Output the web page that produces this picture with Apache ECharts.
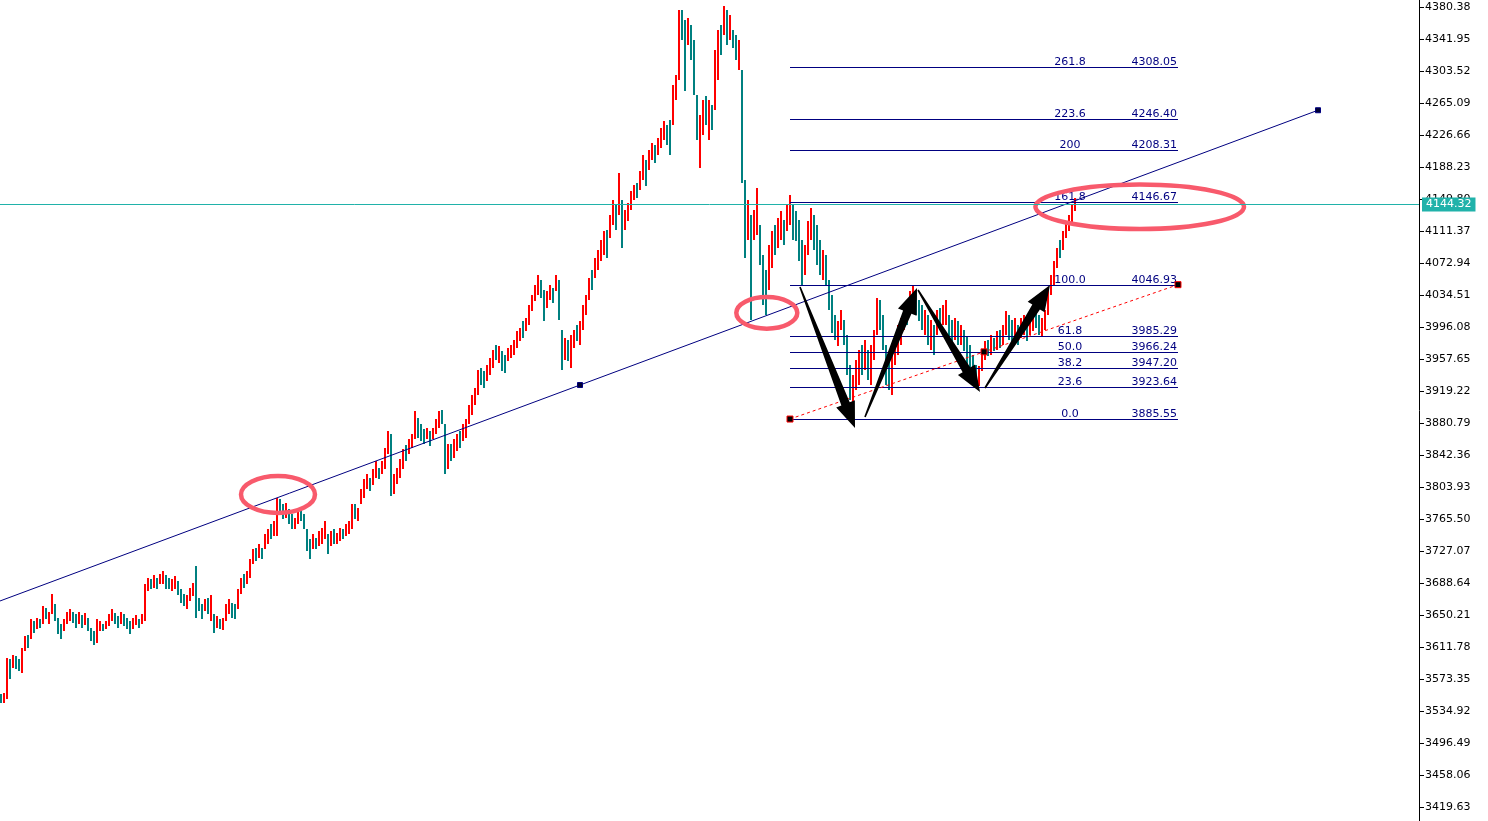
<!DOCTYPE html>
<html>
<head>
<meta charset="utf-8">
<title>Gold H1</title>
<script src="https://cdn.jsdelivr.net/npm/echarts@6/dist/echarts.min.js"></script>
<style>
html, body { margin: 0; padding: 0; background: #ffffff; }
#chart { width: 1488px; height: 821px; }
</style>
</head>
<body>
<div id="chart"></div>
<script>
// one entry per bar, left to right
const highs = [
  3555,3557,3599,3597,3602,3601,3597,3611,3625,3626,
  3645,3643,3647,3645,3661,3659,3654,3675,3663,3647,
  3639,3645,3654,3657,3654,3651,3654,3650,3653,3647,
  3635,3631,3645,3643,3640,3643,3651,3657,3653,3649,
  3654,3651,3647,3643,3647,3650,3646,3651,3687,3695,
  3693,3698,3695,3700,3703,3698,3695,3693,3697,3691,
  3681,3675,3674,3683,3689,3709,3671,3663,3669,3671,
  3674,3651,3649,3645,3647,3663,3669,3665,3663,3681,
  3695,3699,3703,3717,3729,3731,3735,3731,3747,3753,
  3759,3763,3791,3789,3783,3785,3777,3771,3767,3775,
  3777,3771,3753,3741,3747,3743,3751,3755,3763,3747,
  3751,3753,3749,3755,3753,3759,3763,3783,3783,3779,
  3801,3813,3819,3815,3825,3835,3827,3835,3851,3871,
  3867,3819,3827,3837,3849,3854,3861,3867,3895,3887,
  3879,3873,3875,3871,3875,3885,3895,3897,3879,3855,
  3855,3861,3867,3871,3879,3885,3903,3915,3923,3945,
  3947,3943,3950,3959,3969,3975,3973,3967,3963,3971,
  3975,3981,3991,3995,4003,4007,4023,4035,4047,4059,
  4053,4041,4039,4047,4043,4059,4053,3993,3983,3981,
  3987,3993,3999,4003,4023,4035,4055,4065,4079,4089,
  4101,4111,4113,4131,4149,4143,4181,4149,4137,4145,
  4159,4167,4169,4183,4203,4197,4209,4217,4215,4223,
  4235,4243,4239,4245,4287,4299,4377,4377,4365,4367,
  4359,4341,4275,4251,4269,4273,4269,4263,4329,4353,
  4359,4381,4377,4371,4353,4347,4341,4305,4173,4149,
  4131,4137,4163,4119,4083,4065,4095,4111,4119,4127,
  4135,4125,4143,4155,4143,4135,4125,4101,4095,4123,
  4139,4131,4119,4101,4089,4083,4053,4035,4011,4003,
  4017,4005,3987,3951,3939,3957,3969,3975,3981,3969,
  3975,3993,4031,4029,4011,3975,3963,3963,3987,3999,
  4007,4023,4029,4039,4045,4039,4029,4023,4017,4011,
  4005,3999,4017,4019,4023,4029,4011,4005,4007,4003,
  3999,3993,3985,3975,3963,3951,3949,3967,3979,3981,
  3987,3983,3991,3993,3999,4015,4011,4005,4007,3999,
  4007,4011,4005,4007,4015,4017,4011,4007,4017,4041,
  4059,4075,4091,4101,4111,4123,4131,4143,4151
];
const lows = [
  3545,3545,3549,3573,3587,3585,3583,3580,3607,3611,
  3621,3629,3633,3635,3639,3645,3639,3651,3643,3627,
  3621,3631,3639,3643,3641,3635,3639,3635,3638,3631,
  3619,3614,3617,3631,3631,3633,3637,3643,3639,3635,
  3640,3637,3633,3627,3633,3638,3635,3639,3643,3679,
  3681,3683,3681,3687,3688,3681,3681,3679,3681,3674,
  3665,3661,3657,3667,3673,3647,3655,3645,3655,3651,
  3643,3628,3635,3633,3632,3643,3651,3647,3645,3657,
  3675,3683,3687,3695,3711,3715,3719,3717,3729,3735,
  3741,3745,3745,3771,3765,3767,3759,3753,3753,3759,
  3763,3753,3727,3718,3729,3729,3733,3735,3741,3723,
  3733,3735,3735,3739,3741,3745,3747,3753,3765,3763,
  3783,3791,3801,3799,3806,3815,3813,3819,3825,3843,
  3793,3795,3807,3815,3825,3835,3843,3851,3861,3863,
  3859,3855,3861,3853,3861,3867,3875,3879,3819,3825,
  3835,3839,3847,3851,3859,3863,3879,3891,3903,3915,
  3927,3923,3931,3939,3947,3957,3953,3943,3941,3955,
  3959,3963,3971,3979,3983,3991,3999,4015,4027,4035,
  4031,4003,4019,4029,4025,4039,4005,3945,3957,3955,
  3947,3971,3979,3975,3993,4011,4029,4041,4055,4065,
  4075,4083,4079,4103,4119,4113,4131,4091,4113,4123,
  4137,4149,4151,4161,4173,4165,4185,4197,4193,4203,
  4211,4221,4215,4203,4239,4269,4293,4341,4279,4335,
  4317,4275,4221,4187,4227,4239,4221,4233,4257,4293,
  4323,4347,4335,4341,4331,4317,4305,4169,4079,4101,
  4005,4101,4107,4071,4023,4011,4041,4067,4083,4091,
  4101,4095,4111,4119,4101,4099,4075,4045,4059,4083,
  4101,4089,4071,4059,4053,4047,4017,3989,3981,3973,
  3993,3975,3939,3909,3901,3921,3927,3939,3945,3933,
  3927,3957,3987,3993,3969,3927,3921,3915,3951,3963,
  3975,3993,3999,4011,4023,4011,4003,3993,3987,3975,
  3969,3963,3987,3993,3999,3999,3981,3975,3981,3975,
  3975,3967,3949,3945,3935,3927,3925,3943,3957,3961,
  3963,3967,3969,3971,3975,3987,3981,3975,3983,3975,
  3983,3987,3979,3986,3991,3995,3987,3985,3993,4011,
  4035,4047,4067,4079,4089,4103,4111,4119,4135
];
// 1 = bar closed up (red), 0 = closed down (teal)
const ups = [
  0,1,1,0,1,0,0,1,1,0, 1,0,1,0,1,0,1,1,0,0, 0,1,1,1,0,0,1,0,1,0, 0,0,1,1,0,1,1,1,0,0,
  1,0,0,0,1,1,0,1,1,1, 0,1,0,1,1,0,0,1,1,0, 0,0,1,1,1,0,0,0,1,0, 1,0,1,0,1,1,1,0,0,1,
  1,0,1,1,1,0,1,0,1,1, 0,1,1,0,0,1,0,0,1,1, 0,0,0,0,1,0,1,1,1,0, 1,0,1,1,0,1,1,1,0,1,
  1,1,1,0,1,1,0,1,1,1, 0,1,1,1,1,0,1,1,1,0, 0,0,1,0,1,1,1,0,0,1, 0,1,1,0,1,1,1,1,1,1,
  0,0,1,1,1,0,1,0,0,1, 1,1,1,1,0,1,1,1,1,1, 0,0,1,1,0,1,0,0,1,0, 1,1,0,1,1,1,1,0,1,1,
  1,1,0,1,1,0,1,0,1,1, 1,1,0,1,1,0,1,1,0,1, 1,1,0,0,1,1,1,0,0,1, 0,0,0,1,1,0,1,0,1,1,
  0,1,0,1,0,0,1,0,0,1, 0,1,1,0,0,0,1,1,0,1, 1,0,1,1,0,0,0,0,1,1, 1,0,0,0,1,0,0,0,0,1,
  1,0,0,0,1,1,1,0,1,0, 1,1,1,0,0,0,0,1,1,1, 1,1,0,1,1,0,0,0,1,0, 1,0,1,0,1,1,0,0,1,0,
  1,0,0,0,0,0,1,1,1,0, 1,0,1,0,1,1,0,0,1,0, 1,1,0,1,1,0,0,1,1,1, 1,1,1,0,1,1,1,1,1
];

const priceTicks = [
  4380.38, 4341.95, 4303.52, 4265.09, 4226.66, 4188.23, 4149.80, 4111.37, 4072.94,
  4034.51, 3996.08, 3957.65, 3919.22, 3880.79, 3842.36, 3803.93, 3765.50, 3727.07,
  3688.64, 3650.21, 3611.78, 3573.35, 3534.92, 3496.49, 3458.06, 3419.63
];
const lastPrice = 4144.32;

// trend line anchors [bar, price]
const trendFrom = [-53.0, 3596.4];
const trendTo = [439.0, 4256.4];

// fibonacci retracement anchors and levels
const fibFrom = [263.0, 3885.55];
const fibTo = [392.33, 4046.93];
const fibLevels = ["0.0", "23.6", "38.2", "50.0", "61.8", "100.0", "161.8", "200", "223.6", "261.8"];
const fibPrices = [3885.55, 3923.64, 3947.20, 3966.24, 3985.29, 4046.93, 4146.67, 4208.31, 4246.40, 4308.05];

// arrows [barFrom, priceFrom, barTo, priceTo]
const arrows = [
  [266.33, 4044.1, 284.67, 3874.8],
  [288.0, 3888.0, 305.33, 4042.9],
  [305.67, 4040.5, 326.33, 3918.0],
  [328.0, 3922.8, 349.67, 4046.5]
];
// ellipses [bar, price, half width in bars, half height in price]
const rings = [
  [92.33, 3794.9, 12.33, 22.2],
  [255.27, 4013.1, 10.17, 19.0],
  [379.57, 4140.4, 34.77, 26.7]
];

const font = "DejaVu Sans";
const navy = "#000080";
const upColor = "#ff0000";
const downColor = "#008080";
const askColor = "#20b2aa";

let bars = highs.map(function (h, i) {
  return [i, lows[i], h, ups[i]];
});
let mid = function (a, b) {
  return [(a[0] + b[0]) / 2, (a[1] + b[1]) / 2];
};

let chart = echarts.init(document.getElementById("chart"));

let option = {
  animation: false,
  backgroundColor: "#ffffff",
  grid: { left: 0, right: 69, top: 0, bottom: 0, outerBoundsMode: "none" },
  xAxis: { type: "value", min: -1 / 3, max: 473 - 1 / 3, show: false },
  yAxis: {
    type: "value",
    position: "right",
    min: 3402.82,
    max: 4388.79,
    axisLine: { show: true, onZero: false, lineStyle: { color: "#000000", width: 1 } },
    axisTick: { show: true, length: 5, lineStyle: { color: "#000000" }, customValues: priceTicks },
    axisLabel: {
      customValues: priceTicks,
      margin: 6,
      color: "#000000",
      fontFamily: font,
      fontSize: 11,
      formatter: function (v) {
        return v.toFixed(2);
      },
    },
    splitLine: { show: false },
  },
  series: [
    {
      // price bars, high-low
      type: "custom",
      z: 2,
      silent: true,
      data: bars,
      encode: { x: 0, y: [1, 2] },
      renderItem: function (params, api) {
        let top = api.coord([api.value(0), api.value(2)]);
        let bottom = api.coord([api.value(0), api.value(1)]);
        let y0 = Math.round(top[1]);
        let y1 = Math.round(bottom[1]);
        return {
          type: "rect",
          shape: { x: Math.round(top[0]) - 1, y: y0, width: 2, height: Math.max(1, y1 - y0) },
          style: { fill: api.value(3) ? upColor : downColor },
        };
      },
    },
    {
      // fibo level lines with their labels
      type: "custom",
      z: 3,
      silent: true,
      data: fibPrices.map(function (p, k) {
        return [fibFrom[0], p, fibTo[0], k];
      }),
      encode: { x: [0, 2], y: 1 },
      renderItem: function (params, api) {
        let a = api.coord([api.value(0), api.value(1)]);
        let b = api.coord([api.value(2), api.value(1)]);
        let k = api.value(3);
        let y = Math.round(a[1]) + 0.5;
        return {
          type: "group",
          children: [
            {
              type: "line",
              shape: { x1: a[0], y1: y, x2: b[0], y2: y },
              style: { stroke: navy, lineWidth: 1 },
            },
            {
              type: "text",
              style: {
                text: fibLevels[k],
                x: b[0] - 108,
                y: y,
                align: "center",
                verticalAlign: "bottom",
                fill: navy,
                font: "11px " + font,
              },
            },
            {
              type: "text",
              style: {
                text: fibPrices[k].toFixed(2),
                x: b[0] - 1,
                y: y,
                align: "right",
                verticalAlign: "bottom",
                fill: navy,
                font: "11px " + font,
              },
            },
          ],
        };
      },
    },
    {
      // fibo diagonal
      type: "line",
      z: 3,
      silent: true,
      data: [fibFrom, mid(fibFrom, fibTo), fibTo],
      symbol: "rect",
      symbolSize: 6,
      lineStyle: { color: "#ff0000", width: 1, type: [3, 3] },
      itemStyle: { color: "#000000", borderColor: "#ff0000", borderWidth: 1 },
    },
    {
      // trend line
      type: "line",
      z: 3,
      silent: true,
      data: [trendFrom, mid(trendFrom, trendTo), trendTo],
      symbol: "rect",
      symbolSize: 5,
      lineStyle: { color: navy, width: 1 },
      itemStyle: { color: "#000033", borderColor: navy, borderWidth: 1 },
    },
    {
      type: "custom",
      z: 4,
      silent: true,
      data: arrows,
      encode: { x: [0, 2], y: [1, 3] },
      renderItem: function (params, api) {
        let s = api.coord([api.value(0), api.value(1)]);
        let t = api.coord([api.value(2), api.value(3)]);
        let dx = t[0] - s[0];
        let dy = t[1] - s[1];
        let len = Math.sqrt(dx * dx + dy * dy);
        let ux = dx / len, uy = dy / len;
        let nx = -uy, ny = ux;
        let hl = 26, hw = 10, sw = 4.5, sw0 = 0.8;
        let bx = t[0] - ux * hl, by = t[1] - uy * hl;
        return {
          type: "polygon",
          shape: {
            points: [
              [s[0] + nx * sw0, s[1] + ny * sw0],
              [bx + nx * sw, by + ny * sw],
              [bx + nx * hw, by + ny * hw],
              t,
              [bx - nx * hw, by - ny * hw],
              [bx - nx * sw, by - ny * sw],
              [s[0] - nx * sw0, s[1] - ny * sw0],
            ],
          },
          style: { fill: "#000000" },
        };
      },
    },
    {
      type: "custom",
      z: 5,
      silent: true,
      data: rings,
      encode: { x: 0, y: 1 },
      renderItem: function (params, api) {
        let c = api.coord([api.value(0), api.value(1)]);
        let sz = api.size([api.value(2), api.value(3)]);
        return {
          type: "ellipse",
          shape: { cx: c[0], cy: c[1], rx: sz[0], ry: sz[1] },
          style: { fill: "none", stroke: "#f85a6c", lineWidth: 4.5 },
        };
      },
    },
    {
      // current price line and its tag on the axis
      type: "custom",
      z: 6,
      silent: true,
      clip: false,
      data: [[0, lastPrice]],
      encode: { x: 0, y: 1 },
      renderItem: function (params, api) {
        let g = params.coordSys;
        let y = Math.round(api.coord([0, api.value(1)])[1]) + 0.5;
        return {
          type: "group",
          children: [
            {
              type: "line",
              shape: { x1: g.x, y1: y, x2: g.x + g.width, y2: y },
              style: { stroke: askColor, lineWidth: 1 },
            },
            {
              type: "text",
              style: {
                text: api.value(1).toFixed(2),
                x: g.x + g.width + 3,
                y: y,
                align: "left",
                verticalAlign: "middle",
                fill: "#ffffff",
                backgroundColor: askColor,
                padding: [2, 4, 1, 4],
                font: "11px " + font,
              },
            },
          ],
        };
      },
    },
  ],
};

chart.setOption(option);
</script>
</body>
</html>
